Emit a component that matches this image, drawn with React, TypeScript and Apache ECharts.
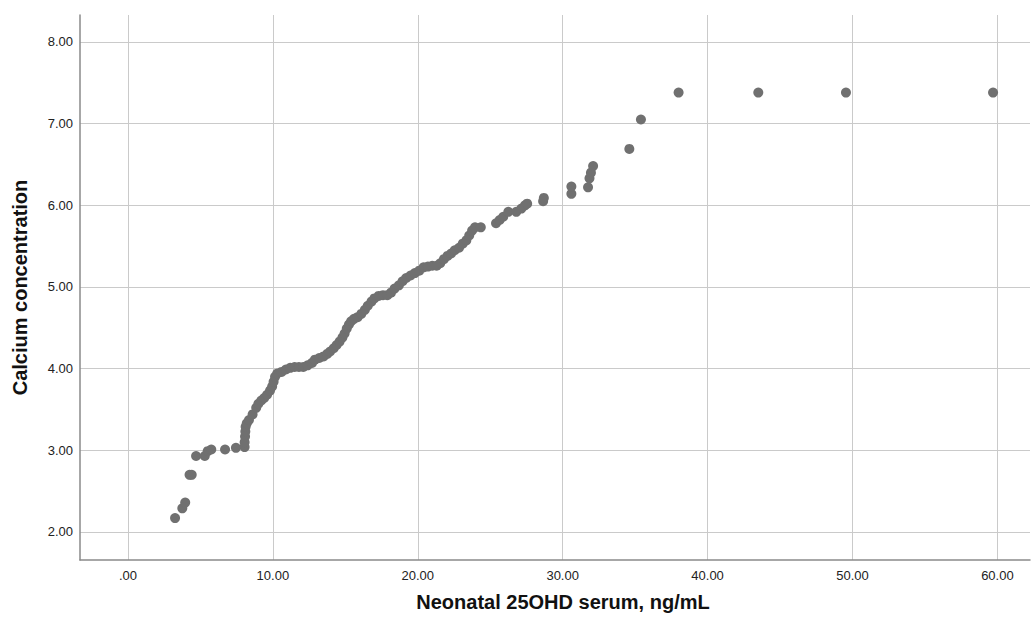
import React, { useEffect, useRef } from "react";
import * as echarts from "echarts";

const xTicks = [0, 10, 20, 30, 40, 50, 60];
const yTicks = [2, 3, 4, 5, 6, 7, 8];

const vitD = [
  3.25, 3.75, 3.95, 4.25, 4.4, 4.7, 5.3, 5.5, 5.75, 6.7, 7.45, 8.05, 8.05, 8.08, 8.1, 8.12,
  8.2, 8.35, 8.6, 8.85, 9.0, 9.2, 9.4, 9.6, 9.8, 9.95, 10.05, 10.15, 10.3, 10.6, 10.9, 11.2,
  11.5, 11.8, 12.1, 12.4, 12.7, 12.9, 13.2, 13.5, 13.75, 13.95, 14.2, 14.4, 14.6, 14.8, 14.95,
  15.1, 15.25, 15.4, 15.6, 15.85, 16.1, 16.35, 16.55, 16.8, 17.0, 17.3, 17.6, 17.9, 18.15,
  18.4, 18.7, 18.95, 19.2, 19.5, 19.8, 20.1, 20.4, 20.7, 21.0, 21.3, 21.55, 21.8, 22.05, 22.3,
  22.55, 22.85, 23.1, 23.35, 23.55, 23.75, 23.95, 24.35, 25.4, 25.65, 25.9, 26.25, 26.8,
  27.15, 27.4, 27.55, 28.65, 28.7, 30.6, 30.6, 31.75, 31.85, 31.95, 32.1, 34.6, 35.4, 38.0,
  43.5, 49.55, 59.7,
];

const calcium = [
  2.17, 2.29, 2.36, 2.7, 2.7, 2.93, 2.93, 2.99, 3.01, 3.01, 3.03, 3.04, 3.1, 3.17, 3.23, 3.29,
  3.33, 3.37, 3.44, 3.52, 3.57, 3.61, 3.64, 3.68, 3.73, 3.78, 3.84, 3.9, 3.94, 3.96, 3.99, 4.01,
  4.02, 4.02, 4.02, 4.04, 4.07, 4.11, 4.13, 4.15, 4.18, 4.21, 4.25, 4.29, 4.33, 4.38, 4.43,
  4.49, 4.54, 4.58, 4.61, 4.63, 4.67, 4.72, 4.77, 4.82, 4.86, 4.89, 4.9, 4.9, 4.93,
  4.98, 5.02, 5.07, 5.11, 5.14, 5.17, 5.2, 5.24, 5.25, 5.26, 5.26, 5.29, 5.34, 5.38, 5.41,
  5.45, 5.48, 5.53, 5.57, 5.63, 5.69, 5.73, 5.73, 5.78, 5.82, 5.86, 5.92, 5.92,
  5.96, 6.0, 6.02, 6.05, 6.09, 6.14, 6.23, 6.22, 6.33, 6.4, 6.48, 6.69, 7.05, 7.38,
  7.38, 7.38, 7.38,
];

const fmt = (v: number) => (v === 0 ? ".00" : v.toFixed(2));

export default function App() {
  const ref = useRef<HTMLDivElement>(null);
  useEffect(() => {
    if (!ref.current) return;
    const chart = echarts.init(ref.current, undefined, { renderer: "svg" });
    const data = vitD.map((x, i) => [x, calcium[i]]);
    const gridColor = "#cacaca";
    const axisColor = "#8a8a8a";
    chart.setOption({
      animation: false,
      backgroundColor: "#ffffff",
      grid: { left: 80, right: 3, top: 15, bottom: 61 },
      xAxis: {
        type: "value",
        min: -3.31,
        max: 62.25,
        name: "Neonatal 25OHD serum, ng/mL",
        nameLocation: "middle",
        nameGap: 32,
        nameTextStyle: {
          fontFamily: "Liberation Sans",
          fontWeight: "bold",
          fontSize: 20,
          color: "#111",
          padding: [0, 0, 0, 16],
        },
        axisLine: { show: true, onZero: false, lineStyle: { color: axisColor, width: 1.5 } },
        axisTick: { show: false, customValues: xTicks },
        axisLabel: {
          customValues: xTicks,
          formatter: fmt,
          fontFamily: "Liberation Sans",
          fontSize: 13,
          color: "#222",
          margin: 9,
        },
        splitLine: { show: true, lineStyle: { color: gridColor, width: 1 } },
      },
      yAxis: {
        type: "value",
        min: 1.657,
        max: 8.33,
        name: "Calcium concentration",
        nameLocation: "middle",
        nameGap: 50,
        nameRotate: 90,
        nameTextStyle: {
          fontFamily: "Liberation Sans",
          fontWeight: "bold",
          fontSize: 20,
          color: "#111",
        },
        axisLine: { show: true, onZero: false, lineStyle: { color: axisColor, width: 1.5 } },
        axisTick: { show: false, customValues: yTicks },
        axisLabel: {
          customValues: yTicks,
          formatter: fmt,
          fontFamily: "Liberation Sans",
          fontSize: 13,
          color: "#222",
          margin: 7,
        },
        splitLine: { show: true, lineStyle: { color: gridColor, width: 1 } },
      },
      series: [
        {
          type: "scatter",
          data,
          symbol: "circle",
          symbolSize: 10,
          itemStyle: { color: "#707070", opacity: 1 },
        },
      ],
    });
    return () => chart.dispose();
  }, []);
  return (
    <div
      ref={ref}
      style={{ position: "absolute", left: 0, top: 0, width: 1033, height: 621 }}
    />
  );
}
